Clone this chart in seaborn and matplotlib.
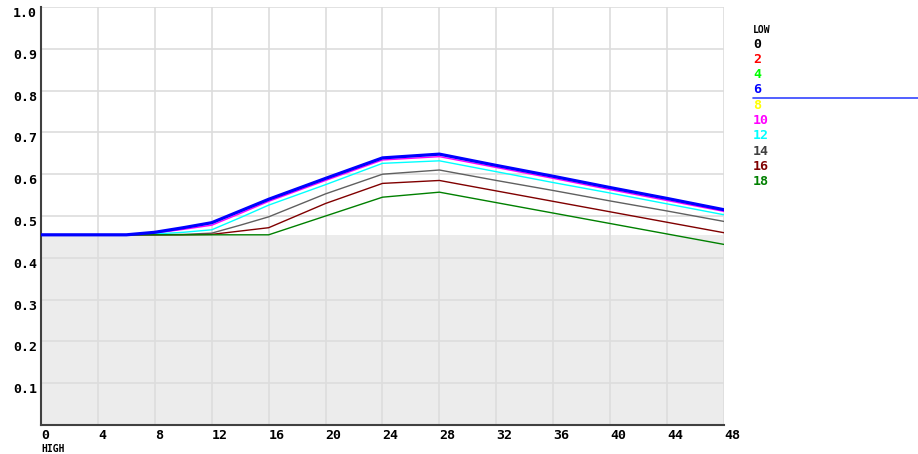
import matplotlib
matplotlib.use("Agg")
import matplotlib.pyplot as plt
import seaborn as sns
import pandas as pd

# hours on the HIGH axis
high = [0, 4, 6, 8, 10, 12, 14, 16, 20, 24, 28, 32, 36, 40, 44, 48]

low_levels = ["0", "2", "4", "6", "8", "10", "12", "14", "16", "18"]
low_colors = ["#000000", "#ff0000", "#00ff00", "#0000ff", "#ffff00",
              "#ff00ff", "#00ffff", "#404040", "#800000", "#008000"]

top_curve = [0.455, 0.455, 0.455, 0.461, 0.472, 0.484, 0.512, 0.540,
             0.590, 0.639, 0.648, 0.621, 0.595, 0.568, 0.542, 0.515]
low_10 = [0.455, 0.455, 0.455, 0.459, 0.468, 0.478, 0.506, 0.535,
          0.585, 0.634, 0.642, 0.616, 0.590, 0.563, 0.537, 0.511]
low_12 = [0.455, 0.455, 0.455, 0.457, 0.461, 0.467, 0.496, 0.526,
          0.575, 0.626, 0.632, 0.606, 0.580, 0.555, 0.529, 0.503]
low_14 = [0.455, 0.455, 0.455, 0.455, 0.456, 0.459, 0.478, 0.498,
          0.553, 0.600, 0.610, 0.585, 0.561, 0.536, 0.512, 0.487]
low_16 = [0.455, 0.455, 0.455, 0.455, 0.455, 0.456, 0.464, 0.472,
          0.530, 0.578, 0.585, 0.560, 0.535, 0.510, 0.485, 0.460]
low_18 = [0.455, 0.455, 0.455, 0.455, 0.455, 0.455, 0.455, 0.455,
          0.500, 0.545, 0.557, 0.532, 0.507, 0.482, 0.457, 0.432]

series = {
    "0": top_curve, "2": top_curve, "4": top_curve, "6": top_curve, "8": top_curve,
    "10": low_10, "12": low_12, "14": low_14, "16": low_16, "18": low_18,
}
baseline = 0.455

rows = []
for lvl in low_levels:
    for h, v in zip(high, series[lvl]):
        rows.append({"high": h, "value": v, "low": lvl})
df = pd.DataFrame(rows)

sns.set_style("white")
plt.rcParams["font.family"] = ["DejaVu Sans Mono", "DejaVu Sans"]
plt.rcParams["font.weight"] = "bold"
plt.rcParams["text.color"] = "black"
plt.rcParams["xtick.color"] = "black"
plt.rcParams["ytick.color"] = "black"

fig = plt.figure(figsize=(9.18, 4.54), dpi=100)
ax = fig.add_axes([41 / 918, 1 - 425 / 454, 683 / 918, 418 / 454])

ax.axhspan(0, baseline, color="#ececec", zorder=0.2, lw=0)

# draw the blue (6) curve last and thicker, as in the original
order = [l for l in low_levels if l != "6"] + ["6"]
for lvl in order:
    c = low_colors[low_levels.index(lvl)]
    if lvl == "14":
        c = "#606060"
    sns.lineplot(data=df[df["low"] == lvl], x="high", y="value", color=c,
                 lw=2.3 if lvl == "6" else 1.0, ax=ax, zorder=3 if lvl == "6" else 2)

ax.set_xlim(0, 48)
ax.set_ylim(0, 1.0)
ax.set_xticks(range(0, 49, 4))
ax.set_yticks([0.1, 0.2, 0.3, 0.4, 0.5, 0.6, 0.7, 0.8, 0.9, 1.0])
ax.set_xticklabels([str(t) for t in range(0, 49, 4)], ha="left", fontsize=9.5, fontweight="bold")
ax.set_yticklabels(["0.1", "0.2", "0.3", "0.4", "0.5", "0.6", "0.7", "0.8", "0.9", "1.0"],
                   va="top", fontsize=9.5, fontweight="bold")
ax.tick_params(length=0, pad=3)
ax.set_xlabel("")
ax.set_ylabel("")
ax.set_axisbelow(True)
ax.grid(True, color="#dddddd", lw=1.2)
for s in ["top", "right"]:
    ax.spines[s].set_visible(False)
ax.spines["left"].set_color("#404040")
ax.spines["bottom"].set_color("#404040")
ax.spines["left"].set_linewidth(1.5)
ax.spines["bottom"].set_linewidth(1.5)

fig.text(41 / 918, 1 - 449 / 454, "HIGH", fontsize=7, fontweight="bold", va="center")

# legend column on the right
fig.text(753 / 918, 1 - 30 / 454, "LOW", fontsize=7, fontweight="bold", va="center")
for i, (lvl, c) in enumerate(zip(low_levels, low_colors)):
    y = 44 + i * 15.3
    fig.text(753 / 918, 1 - y / 454, lvl, color=c, fontsize=9.5, fontweight="bold", va="center")
fig.add_artist(plt.Line2D([753 / 918, 1.0], [1 - 98 / 454, 1 - 98 / 454],
                          color="#3344ff", lw=1.2, transform=fig.transFigure))

fig.savefig("out.png", dpi=100)
